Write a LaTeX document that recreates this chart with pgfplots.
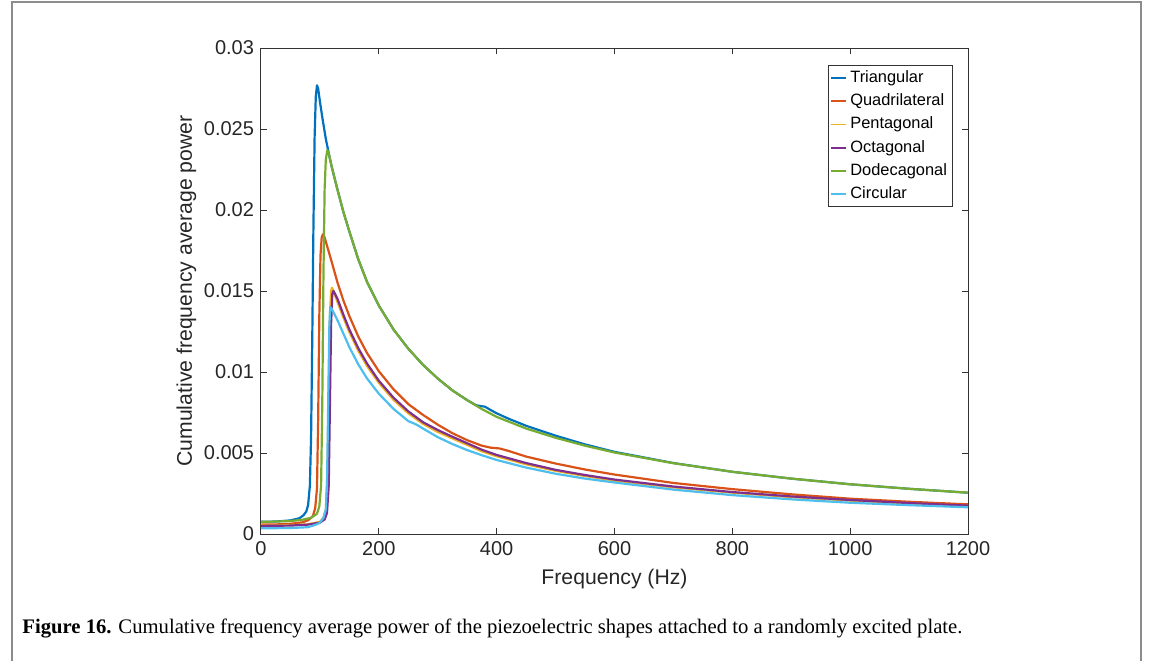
\documentclass[border=0pt]{standalone}
\usepackage{pgfplots}
\pgfplotsset{compat=1.18}
\usepackage{fontspec}
\setmainfont{Liberation Sans}
\newfontfamily\capfont{Liberation Serif}
\definecolor{mblue}{rgb}{0,0.447,0.741}
\definecolor{mred}{rgb}{0.85,0.325,0.098}
\definecolor{myellow}{rgb}{0.929,0.694,0.125}
\definecolor{mpurple}{rgb}{0.494,0.184,0.556}
\definecolor{mgreen}{rgb}{0.466,0.674,0.188}
\definecolor{mcyan}{rgb}{0.301,0.745,0.933}
\begin{document}
\begin{tikzpicture}
\path[use as bounding box] (0,0) rectangle (576.5pt,330.5pt);
\draw[black!45, line width=0.6pt] (6pt,0) -- (6pt,329.5pt) -- (570.5pt,329.5pt) -- (570.5pt,0);
\begin{axis}[
  at={(130.5pt,63.5pt)}, anchor=south west,
  width=353.5pt, height=243pt, scale only axis,
  xmin=0, xmax=1200, ymin=0, ymax=0.03,
  xtick={0,200,...,1200},
  ytick={0,0.005,0.01,0.015,0.02,0.025,0.03},
  scaled y ticks=false,
  /pgf/number format/assume math mode=true,
  yticklabel style={/pgf/number format/fixed, /pgf/number format/precision=3},
  xticklabel style={/pgf/number format/set thousands separator={}},
  tick label style={font=\fontsize{10}{12}\selectfont, black!85},
  label style={font=\fontsize{10.6}{12}\selectfont, black!85},
  xlabel={Frequency (Hz)},
  ylabel={Cumulative frequency average power},
  ylabel style={yshift=-3pt},
  axis line style={black!80, line width=0.5pt},
  tick style={black!80, line width=0.5pt},
  major tick length=3pt,
  legend cell align=left,
  legend style={at={(0.9788,0.965)}, anchor=north east, draw=black!80, line width=0.4pt,
    font=\fontsize{8.2}{9.8}\selectfont, inner xsep=1pt, inner ysep=0.5pt, row sep=0pt,
    nodes={inner sep=1.8pt, text height=6.2pt, text depth=1.8pt}},
  legend image code/.code={\draw[#1, line width=0.9pt] (0pt,0pt) -- (7.5pt,0pt);},
  every axis plot/.append style={line width=1.1pt, line join=round},
]
\addplot[mblue] coordinates {(0,0.00075)(25,0.00077)(50,0.00084)(65,0.00097)(72,0.00115)(77,0.0014)(80,0.0018)(83,0.0030)(85,0.0060)(87,0.0120)(89,0.0190)(91,0.0245)(93,0.0270)(95,0.0277)(97,0.0275)(100,0.0267)(105,0.0255)(110,0.0244)(115,0.0235)(120,0.02267)(130,0.02123)(140,0.01986)(150,0.01867)(165,0.01697)(180,0.01556)(200,0.01410)(225,0.01262)(250,0.01144)(275,0.01044)(300,0.00960)(325,0.00886)(350,0.00826)(365,0.00795)(372,0.00790)(380,0.00786)(390,0.00765)(400,0.00745)(420,0.00712)(450,0.00668)(500,0.00607)(550,0.00553)(600,0.00507)(700,0.00438)(800,0.00384)(900,0.00342)(1000,0.00307)(1100,0.00279)(1200,0.00255)};
\addlegendentry{Triangular}
\addplot[mred] coordinates {(0,0.00058)(25,0.00059)(50,0.00063)(70,0.00072)(80,0.00085)(88,0.0011)(92,0.0016)(95,0.0028)(97,0.007)(99,0.0135)(101,0.0172)(103,0.0183)(105,0.0185)(108,0.0183)(112,0.0178)(120,0.0168)(130,0.0155)(140,0.0144)(150,0.01345)(165,0.0122)(180,0.01117)(200,0.01005)(225,0.00893)(250,0.00802)(275,0.00735)(300,0.00675)(325,0.00622)(350,0.00579)(375,0.00545)(390,0.00533)(405,0.00528)(420,0.00513)(450,0.00478)(500,0.00435)(550,0.00398)(600,0.00367)(700,0.00315)(800,0.00277)(900,0.00245)(1000,0.00218)(1100,0.00199)(1200,0.00183)};
\addlegendentry{Quadrilateral}
\addplot[myellow] coordinates {(0,0.00052)(50,0.00054)(80,0.0006)(100,0.00075)(106,0.001)(110,0.0015)(113,0.004)(115,0.009)(117,0.0135)(119,0.0150)(120.5,0.0152)(123,0.0150)(126,0.0147)(130,0.0143)(140,0.01335)(150,0.01245)(165,0.01132)(180,0.01037)(200,0.00933)(225,0.00828)(250,0.00745)(275,0.0068)(300,0.0063)(325,0.0059)(350,0.0055)(375,0.0051)(400,0.0048)(450,0.0043)(500,0.0039)(550,0.00358)(600,0.0033)(700,0.00288)(800,0.00255)(900,0.00228)(1000,0.00206)(1100,0.00188)(1200,0.00172)};
\addlegendentry{Pentagonal}
\addplot[mpurple] coordinates {(0,0.0005)(50,0.00052)(80,0.00058)(100,0.0007)(108,0.0009)(112,0.0013)(115,0.003)(117,0.008)(119,0.013)(121,0.0148)(123,0.0150)(126,0.0148)(130,0.0145)(140,0.01352)(150,0.01262)(165,0.01148)(180,0.01052)(200,0.00946)(225,0.00841)(250,0.00757)(275,0.0069)(300,0.00642)(325,0.006)(350,0.0056)(375,0.0052)(400,0.00488)(450,0.00438)(500,0.00396)(550,0.00364)(600,0.00336)(700,0.00293)(800,0.00259)(900,0.00232)(1000,0.0021)(1100,0.00191)(1200,0.00175)};
\addlegendentry{Octagonal}
\addplot[mgreen] coordinates {(0,0.00075)(25,0.00077)(50,0.0008)(70,0.00088)(85,0.001)(95,0.00125)(99,0.0017)(102,0.003)(104,0.008)(106,0.016)(108,0.0213)(110,0.0231)(112.5,0.0237)(115,0.0235)(120,0.02267)(130,0.02123)(140,0.01986)(150,0.01867)(165,0.01697)(180,0.01556)(200,0.01410)(225,0.01262)(250,0.01144)(275,0.01044)(300,0.00960)(325,0.00886)(350,0.00826)(375,0.00771)(400,0.00723)(450,0.00651)(500,0.00594)(550,0.00545)(600,0.00503)(700,0.00437)(800,0.00384)(900,0.00342)(1000,0.00307)(1100,0.00279)(1200,0.00255)};
\addlegendentry{Dodecagonal}
\addplot[mcyan] coordinates {(0,0.00035)(50,0.00037)(80,0.00042)(95,0.0006)(100,0.0007)(106,0.001)(110,0.0015)(112,0.003)(114,0.008)(116,0.0128)(117.5,0.0140)(120,0.0139)(125,0.01355)(130,0.01318)(140,0.01236)(150,0.01153)(165,0.01048)(180,0.0096)(200,0.00866)(225,0.00772)(250,0.00697)(258,0.00685)(265,0.00673)(275,0.00651)(300,0.00598)(325,0.00555)(350,0.00518)(375,0.00486)(400,0.00457)(450,0.0041)(500,0.00372)(550,0.00342)(600,0.00318)(700,0.00274)(800,0.0024)(900,0.00214)(1000,0.00193)(1100,0.00178)(1200,0.00165)};
\addlegendentry{Circular}
\end{axis}
\node[anchor=west, inner sep=0pt] at (11pt,16.5pt) {\resizebox{470pt}{!}{\capfont\fontsize{10}{12}\selectfont\textbf{Figure 16.} Cumulative frequency average power of the piezoelectric shapes attached to a randomly excited plate.}};
\end{tikzpicture}
\end{document}
